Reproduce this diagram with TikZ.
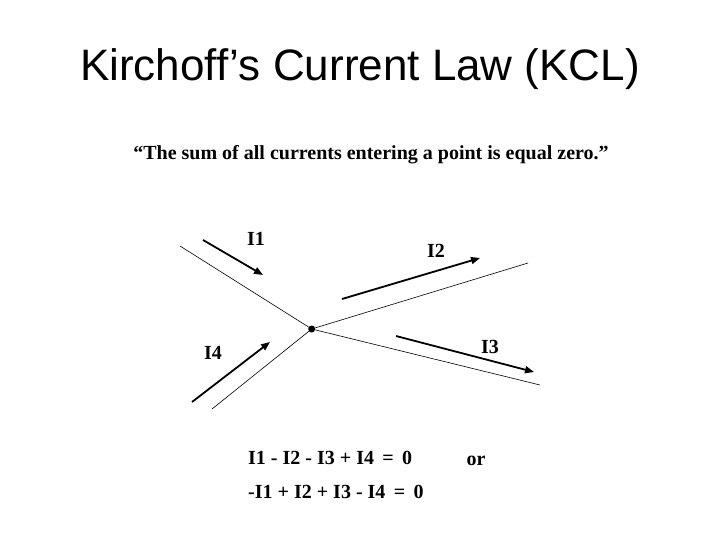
\documentclass[tikz,border=0pt]{standalone}
\usepackage{fontspec}
\setmainfont{Liberation Serif}
\newfontfamily\titlefont[Ligatures=NoCommon]{Liberation Sans}
\usetikzlibrary{arrows.meta}

\tikzset{
  wire/.style={line width=0.6pt},
  current/.style={line width=1.8pt, -{Triangle[length=9pt,width=7pt]}},
  lbl/.style={font=\bfseries\fontsize{20}{24}\selectfont}
}

\begin{document}
\begin{tikzpicture}[x=1pt,y=1pt,yscale=-1,xscale=1]
\useasboundingbox (0,0) rectangle (720,540);

% Text Node
\draw (360,69) node (title) {\titlefont\fontsize{44}{53}\selectfont Kirchof\kern0ptf’s Current Law (KCL)};
% Text Node
\draw (371,155) node (quote) [lbl] {“The sum of all currents entering a point is equal zero.”};

%Junction
\node [circle, fill, inner sep=0pt, minimum size=7pt] (junc) at (311.7,329) {};
\coordinate (w1) at (180,246);
\coordinate (w2) at (528,263);
\coordinate (w3) at (540,385);
\coordinate (w4) at (212,409);

%Straight Lines
\draw [wire] (w1) -- (junc.center);
\draw [wire] (junc.center) -- (w2);
\draw [wire] (junc.center) -- (w3);
\draw [wire] (w4) -- (junc.center);

%Current arrows
\coordinate (a1) at (203,240);  \coordinate (b1) at (263,275);
\coordinate (a2) at (342,299);  \coordinate (b2) at (480,258);
\coordinate (a3) at (396,336);  \coordinate (b3) at (534,372);
\coordinate (a4) at (192,402);  \coordinate (b4) at (270,342);
\draw [current] (a1) -- (b1);
\draw [current] (a2) -- (b2);
\draw [current] (a3) -- (b3);
\draw [current] (a4) -- (b4);

% Text Node
\draw (256,239) node (i1) [lbl] {I1};
% Text Node
\draw (436,251) node (i2) [lbl] {I2};
% Text Node
\draw (490,347) node (i3) [lbl] {I3};
% Text Node
\draw (213,353) node (i4) [lbl] {I4};

% Text Node
\draw (248,458) node (eqa) [lbl, anchor=west, inner sep=0pt] {I1 - I2 - I3 + I4 \,=\, 0};
% Text Node
\draw (476,461) node (or) [lbl] {or};
% Text Node
\draw (248,492) node (eqb) [lbl, anchor=west, inner sep=0pt] {-I1 + I2 + I3 - I4 \,=\, 0};

\end{tikzpicture}
\end{document}
